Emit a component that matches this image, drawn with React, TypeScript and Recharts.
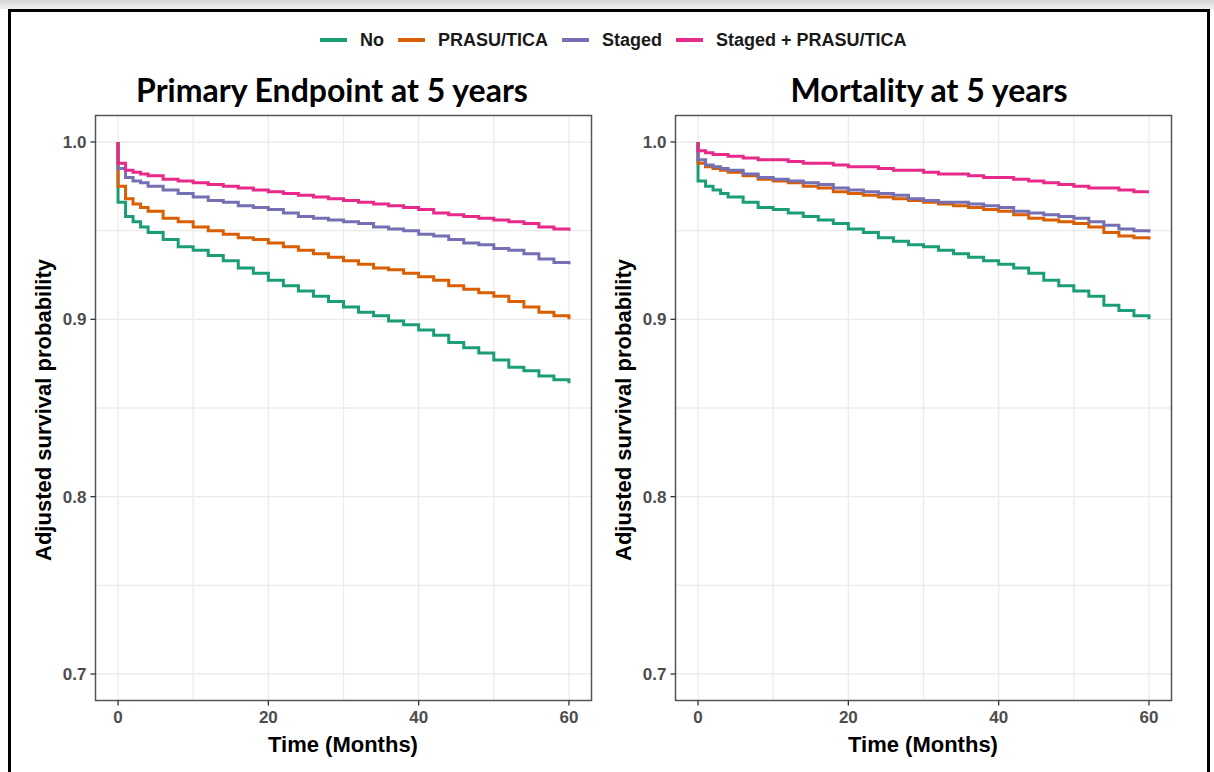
import React from 'react';
import { LineChart, Line, XAxis, YAxis, CartesianGrid, ReferenceArea } from 'recharts';

// months since the procedure (0 twice: the curves start at 1.0 and drop at once)
const months = [0, 0, 1, 2, 3, 4, 6, 8, 10, 12, 14, 16, 18, 20, 22, 24, 26, 28, 30, 32, 34, 36, 38, 40, 42, 44, 46, 48, 50, 52, 54, 56, 58, 60];

const seriesNames = ['No', 'PRASU/TICA', 'Staged', 'Staged + PRASU/TICA'];
const seriesColors = ['#1B9E77', '#D95F02', '#7570B3', '#E7298A'];

// Primary endpoint at 5 years
const primaryNo = [1.0, 0.966, 0.958, 0.955, 0.952, 0.949, 0.945, 0.941, 0.939, 0.936, 0.933, 0.929, 0.926, 0.922, 0.919, 0.916, 0.913, 0.910, 0.907, 0.904, 0.902, 0.899, 0.897, 0.894, 0.891, 0.887, 0.884, 0.881, 0.877, 0.873, 0.871, 0.868, 0.866, 0.864];
const primaryPrasu = [1.0, 0.975, 0.968, 0.965, 0.963, 0.961, 0.957, 0.955, 0.952, 0.950, 0.948, 0.946, 0.945, 0.943, 0.941, 0.939, 0.937, 0.935, 0.933, 0.931, 0.929, 0.928, 0.926, 0.924, 0.922, 0.919, 0.917, 0.915, 0.913, 0.910, 0.907, 0.904, 0.902, 0.900];
const primaryStaged = [1.0, 0.985, 0.980, 0.978, 0.977, 0.975, 0.973, 0.971, 0.969, 0.967, 0.966, 0.964, 0.963, 0.962, 0.960, 0.958, 0.957, 0.956, 0.955, 0.954, 0.952, 0.951, 0.950, 0.948, 0.947, 0.945, 0.943, 0.942, 0.940, 0.939, 0.937, 0.934, 0.932, 0.931];
const primaryBoth = [1.0, 0.988, 0.984, 0.983, 0.982, 0.981, 0.979, 0.978, 0.977, 0.976, 0.975, 0.974, 0.973, 0.972, 0.971, 0.970, 0.969, 0.968, 0.967, 0.966, 0.965, 0.964, 0.963, 0.962, 0.960, 0.959, 0.958, 0.957, 0.956, 0.955, 0.954, 0.952, 0.951, 0.950];

// Mortality at 5 years
const mortalityNo = [1.0, 0.978, 0.975, 0.973, 0.971, 0.969, 0.966, 0.963, 0.962, 0.960, 0.958, 0.956, 0.954, 0.951, 0.949, 0.946, 0.944, 0.942, 0.941, 0.939, 0.937, 0.935, 0.933, 0.931, 0.929, 0.926, 0.922, 0.919, 0.916, 0.913, 0.908, 0.905, 0.902, 0.900];
const mortalityPrasu = [1.0, 0.988, 0.986, 0.985, 0.984, 0.983, 0.981, 0.979, 0.978, 0.977, 0.975, 0.974, 0.972, 0.971, 0.970, 0.969, 0.968, 0.967, 0.966, 0.965, 0.964, 0.963, 0.962, 0.961, 0.959, 0.957, 0.956, 0.955, 0.954, 0.952, 0.949, 0.947, 0.946, 0.945];
const mortalityStaged = [1.0, 0.990, 0.987, 0.986, 0.985, 0.984, 0.982, 0.980, 0.979, 0.978, 0.977, 0.976, 0.974, 0.973, 0.972, 0.971, 0.970, 0.968, 0.967, 0.966, 0.966, 0.965, 0.964, 0.963, 0.961, 0.960, 0.959, 0.958, 0.957, 0.955, 0.953, 0.951, 0.950, 0.949];
const mortalityBoth = [1.0, 0.995, 0.994, 0.993, 0.993, 0.992, 0.991, 0.990, 0.990, 0.989, 0.988, 0.988, 0.987, 0.986, 0.986, 0.985, 0.984, 0.984, 0.983, 0.982, 0.982, 0.981, 0.980, 0.980, 0.979, 0.978, 0.977, 0.976, 0.975, 0.974, 0.974, 0.973, 0.972, 0.972];

const xTicks = [0, 20, 40, 60];
const xGrid = [0, 10, 20, 30, 40, 50, 60];
const yTicks = [0.7, 0.8, 0.9, 1.0];
const yGrid = [0.7, 0.75, 0.8, 0.85, 0.9, 0.95, 1.0];

const sansFont = '"Liberation Sans", Arial, sans-serif';

const buildRows = (series: number[][]) =>
  months.map((t, i) => {
    const row: Record<string, number> = { t };
    series.forEach((s, k) => {
      row['s' + k] = s[i];
    });
    return row;
  });

const XTick = ({ x, y, payload }: any) => (
  <text x={x} y={y} dy={13} textAnchor="middle" fill="#4d4d4d" fontSize={17} fontWeight={700} fontFamily={sansFont}>
    {payload.value}
  </text>
);

const YTick = ({ x, y, payload }: any) => (
  <text x={x} y={y} dy={6} textAnchor="end" fill="#4d4d4d" fontSize={17} fontWeight={700} fontFamily={sansFont}>
    {Number(payload.value).toFixed(1)}
  </text>
);

const Panel = ({ series, left }: { series: number[][]; left: number }) => {
  const rows = buildRows(series);
  return (
    <div style={{ position: 'absolute', left, top: 0 }}>
      <LineChart width={600} height={772} data={rows} margin={{ top: 115.4, right: 8.5, bottom: 41.4, left: 55.5 }}>
        <CartesianGrid stroke="#ebebeb" strokeWidth={1.3} horizontalValues={yGrid} verticalValues={xGrid} />
        <XAxis
          dataKey="t"
          type="number"
          domain={[-3, 63]}
          ticks={xTicks}
          allowDataOverflow
          axisLine={false}
          tickLine={{ stroke: '#333', strokeWidth: 1.3 }}
          tickSize={5}
          tickMargin={4}
          height={30}
          tick={<XTick />}
        />
        <YAxis
          type="number"
          domain={[0.685, 1.015]}
          ticks={yTicks}
          allowDataOverflow
          axisLine={false}
          tickLine={{ stroke: '#333', strokeWidth: 1.3 }}
          tickSize={5}
          tickMargin={4}
          width={40}
          tick={<YTick />}
        />
        {series.map((_, k) => (
          <Line
            key={seriesNames[k]}
            dataKey={'s' + k}
            type="stepAfter"
            stroke={seriesColors[k]}
            strokeWidth={3}
            dot={false}
            activeDot={false}
            isAnimationActive={false}
          />
        ))}
        <ReferenceArea x1={-3} x2={63} y1={0.685} y2={1.015} fill="none" stroke="#555" strokeWidth={1.5} ifOverflow="visible" />
      </LineChart>
    </div>
  );
};

const Legend = () => (
  <div style={{ position: 'absolute', left: 320, top: 30, display: 'flex', alignItems: 'center', fontFamily: sansFont, fontWeight: 700, fontSize: 18, lineHeight: '20px', color: '#1a1a1a' }}>
    {seriesNames.map((name, k) => (
      <div key={name} style={{ display: 'flex', alignItems: 'center', marginRight: 14 }}>
        <div style={{ width: 27, height: 3.5, background: seriesColors[k], marginRight: 13 }} />
        <span>{name}</span>
      </div>
    ))}
  </div>
);

const Title = ({ text, cx }: { text: string; cx: number }) => (
  <div style={{ position: 'absolute', left: cx - 250, width: 500, top: 71, textAlign: 'center', fontFamily: 'Lato, sans-serif', fontWeight: 700, fontSize: 32, lineHeight: '38px', color: '#000' }}>
    {text}
  </div>
);

const XLabel = ({ cx }: { cx: number }) => (
  <div style={{ position: 'absolute', left: cx - 150, width: 300, top: 732, textAlign: 'center', fontFamily: sansFont, fontWeight: 700, fontSize: 22, lineHeight: '26px', color: '#000' }}>
    Time (Months)
  </div>
);

const YLabel = ({ cx }: { cx: number }) => (
  <div style={{ position: 'absolute', left: cx - 200, width: 400, top: 410 - 13, textAlign: 'center', fontFamily: sansFont, fontWeight: 700, fontSize: 22, lineHeight: '26px', color: '#000', transform: 'rotate(-90deg)' }}>
    Adjusted survival probability
  </div>
);

export default function App() {
  return (
    <div style={{ position: 'absolute', left: 0, top: 0, width: 1214, height: 772, background: '#fff', overflow: 'hidden' }}>
      <div style={{ position: 'absolute', left: 0, top: 0, width: 1214, height: 9, background: 'linear-gradient(#d6d6d6, #f0f0f0)' }} />
      <div style={{ position: 'absolute', left: 8, top: 9, width: 1196, height: 800, border: '3.5px solid #000' }} />
      <Legend />
      <Title text="Primary Endpoint at 5 years" cx={332} />
      <Title text="Mortality at 5 years" cx={929} />
      <Panel series={[primaryNo, primaryPrasu, primaryStaged, primaryBoth]} left={0} />
      <Panel series={[mortalityNo, mortalityPrasu, mortalityStaged, mortalityBoth]} left={580} />
      <XLabel cx={343} />
      <XLabel cx={923} />
      <YLabel cx={44} />
      <YLabel cx={624} />
    </div>
  );
}
